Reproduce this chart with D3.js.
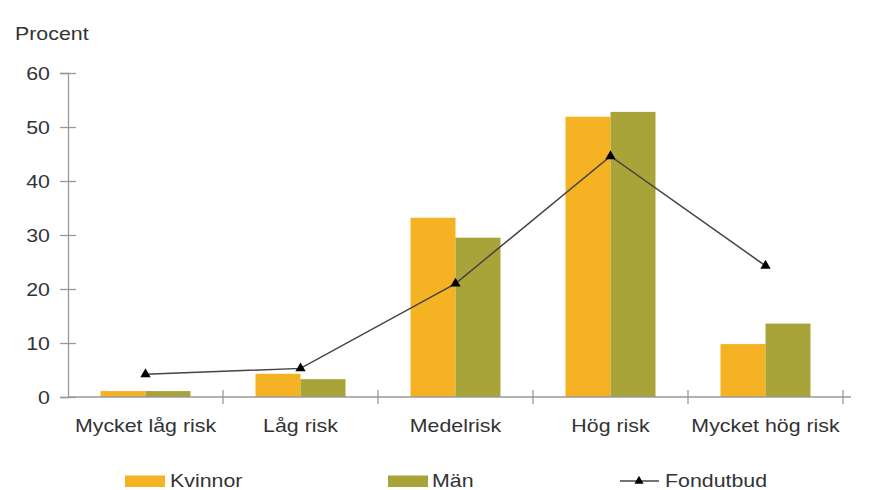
<!DOCTYPE html>
<html>
<head>
<meta charset="utf-8">
<script src="https://cdn.jsdelivr.net/npm/d3@7"></script>
<style>
  body { margin: 0; background: #fff; }
  svg text { font-family: "Liberation Sans", Arial, sans-serif; fill: #333; font-size: 17.5px; }
</style>
</head>
<body>
<svg id="chart" width="885" height="490"></svg>
<script>
// Riskklasser
const categories = ["Mycket låg risk", "Låg risk", "Medelrisk", "Hög risk", "Mycket hög risk"];
// Andel (procent) per riskklass
const kvinnor = [1.1, 4.3, 33.2, 51.9, 9.8];
const man = [1.1, 3.3, 29.5, 52.8, 13.6];
const fondutbud = [4.2, 5.3, 21.0, 44.6, 24.3];
const yTicks = [0, 10, 20, 30, 40, 50, 60];

const colors = { kvinnor: "#F5B324", man: "#A9A43A", line: "#444", axis: "#999" };
const stretch = 1.22; // horizontal text widening

const svg = d3.select("#chart");
const plot = { left: 68, right: 843, top: 73, bottom: 397 };

const x = d3.scaleBand().domain(categories).range([plot.left, plot.right]);
const y = d3.scaleLinear().domain([0, 60]).range([plot.bottom, plot.top]);
const groupW = 90;
const xs = d3.scaleBand().domain(["k", "m"]).range([0, groupW]);
const off = (x.bandwidth() - groupW) / 2;

// place a text with widened glyphs at (px, py)
function wideText(parent, px, py, str, anchor) {
  return parent.append("text")
    .attr("transform", `translate(${px},${py}) scale(${stretch},1)`)
    .attr("text-anchor", anchor || "start")
    .text(str);
}

// Bars
const series = [
  { key: "k", values: kvinnor, color: colors.kvinnor },
  { key: "m", values: man, color: colors.man }
];
series.forEach(s => {
  svg.append("g").selectAll("rect").data(s.values).join("rect")
    .attr("x", (d, i) => x(categories[i]) + off + xs(s.key))
    .attr("y", d => y(d))
    .attr("width", xs.bandwidth())
    .attr("height", d => y(0) - y(d))
    .attr("fill", s.color);
});

// Y axis
const yAxis = svg.append("g").attr("transform", `translate(${plot.left},0)`)
  .call(d3.axisLeft(y).tickValues(yTicks).tickSize(8));
yAxis.select(".domain").attr("stroke", colors.axis).attr("stroke-width", 1.3);
yAxis.selectAll(".tick line").attr("stroke", colors.axis).attr("x2", 8).attr("x1", -8).attr("stroke-width", 1.3);
yAxis.selectAll(".tick text")
  .attr("x", null).attr("dy", "0.35em").attr("fill", "#333")
  .attr("text-anchor", "end")
  .attr("transform", `translate(-18,0) scale(${stretch},1)`)
  .style("font-size", "17.5px");

// X axis
const xAxis = svg.append("g").attr("transform", `translate(0,${plot.bottom})`)
  .call(d3.axisBottom(x).tickSize(0).tickPadding(0));
xAxis.select(".domain").attr("stroke", colors.axis).attr("stroke-width", 1.3)
  .attr("d", `M${plot.left},0H${plot.right + 8}`);
xAxis.selectAll(".tick text")
  .attr("y", null).attr("dy", null).attr("fill", "#333")
  .attr("transform", `translate(0,35) scale(${stretch},1)`)
  .style("font-size", "17.5px");
// Category separators
const bounds = categories.slice(1).map(c => x(c)).concat([plot.right]);
xAxis.append("g").selectAll("line").data(bounds).join("line")
  .attr("x1", d => d).attr("x2", d => d).attr("y1", -7).attr("y2", 7)
  .attr("stroke", colors.axis).attr("stroke-width", 1.3);

// Line: Fondutbud
const cx = (d, i) => x(categories[i]) + x.bandwidth() / 2;
const line = d3.line().x(cx).y(d => y(d));
svg.append("path").datum(fondutbud).attr("d", line)
  .attr("fill", "none").attr("stroke", colors.line).attr("stroke-width", 1.5);
const tri = d3.symbol().type(d3.symbolTriangle).size(46);
svg.append("g").selectAll("path").data(fondutbud).join("path")
  .attr("d", tri)
  .attr("transform", (d, i) => `translate(${cx(d, i)},${y(d)})`)
  .attr("fill", "#000");

// Y title
wideText(svg, 15, 39.5, "Procent");

// Legend
const ly = 481;
const lg = svg.append("g");
lg.append("rect").attr("x", 125).attr("y", ly - 5.5).attr("width", 40).attr("height", 11.5).attr("fill", colors.kvinnor);
wideText(lg, 170, ly + 6, "Kvinnor");
lg.append("rect").attr("x", 388).attr("y", ly - 5.5).attr("width", 40).attr("height", 11.5).attr("fill", colors.man);
wideText(lg, 432, ly + 6, "Män");
lg.append("line").attr("x1", 620).attr("x2", 659).attr("y1", ly).attr("y2", ly)
  .attr("stroke", colors.line).attr("stroke-width", 1.5);
lg.append("path").attr("d", d3.symbol().type(d3.symbolTriangle).size(36))
  .attr("transform", `translate(639,${ly})`).attr("fill", "#000");
wideText(lg, 665, ly + 6, "Fondutbud");
</script>
</body>
</html>
